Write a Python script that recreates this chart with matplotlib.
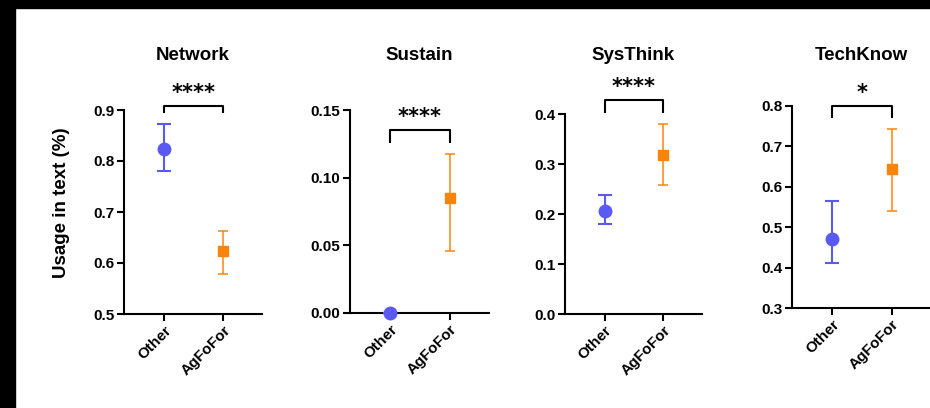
import matplotlib.pyplot as plt
from matplotlib.patches import Rectangle

plt.rcParams['font.family'] = ['Liberation Sans', 'DejaVu Sans']
plt.rcParams['font.weight'] = 'bold'

groups = ["Other", "AgFoFor"]
titles = ["Network", "Sustain", "SysThink", "TechKnow"]

# mean, lower, upper
other_mean = [0.824, 0.000, 0.207, 0.470]
other_low = [0.780, 0.000, 0.181, 0.411]
other_high = [0.873, 0.000, 0.239, 0.564]
agfo_mean = [0.623, 0.0852, 0.319, 0.644]
agfo_low = [0.578, 0.0455, 0.258, 0.541]
agfo_high = [0.663, 0.1173, 0.381, 0.743]

stars = ["****", "****", "****", "*"]
bracket_y = [0.908, 0.135, 0.428, 0.800]
bracket_leg = [0.897, 0.1266, 0.405, 0.774]

ylims = [(0.5, 0.9), (0.0, 0.15), (0.0, 0.4), (0.3, 0.8)]
yticks = [[0.5, 0.6, 0.7, 0.8, 0.9],
          [0.0, 0.05, 0.10, 0.15],
          [0.0, 0.1, 0.2, 0.3, 0.4],
          [0.3, 0.4, 0.5, 0.6, 0.7, 0.8]]
yfmt = ["%.1f", "%.2f", "%.1f", "%.1f"]

blue = "#5a5af2"
orange = "#f7850d"

W, H = 930, 408
# axes boxes in pixels: left, right, top, bottom
boxes = [(124, 262, 110, 314), (350, 489, 110, 313),
         (565, 702, 114, 314), (792, 931, 106, 308)]

fig = plt.figure(figsize=(9.3, 4.08), dpi=100)

for i in range(4):
    l, r, t, b = boxes[i]
    ax = fig.add_axes([l / W, 1 - b / H, (r - l) / W, (b - t) / H])
    ax.errorbar([0], [other_mean[i]],
                yerr=[[other_mean[i] - other_low[i]], [other_high[i] - other_mean[i]]],
                fmt='o', color=blue, ms=9, elinewidth=1.5, capsize=5, capthick=1.5,
                clip_on=False, zorder=5)
    ax.errorbar([1], [agfo_mean[i]],
                yerr=[[agfo_mean[i] - agfo_low[i]], [agfo_high[i] - agfo_mean[i]]],
                fmt='s', color=orange, ms=7.5, elinewidth=1.1, capsize=3.5, capthick=1.1,
                clip_on=False, zorder=5)

    ax.set_xlim(-0.678, 1.66)
    ax.set_ylim(*ylims[i])
    ax.set_yticks(yticks[i])
    ax.set_yticklabels([yfmt[i] % v for v in yticks[i]], fontsize=11, fontweight='bold')
    ax.set_xticks([0, 1])
    ax.set_xticklabels(groups, rotation=45, ha='right', rotation_mode='anchor',
                       fontsize=11, fontweight='bold')
    for s in ['top', 'right']:
        ax.spines[s].set_visible(False)
    for s in ['left', 'bottom']:
        ax.spines[s].set_linewidth(1.5)
    ax.tick_params(width=1.5, length=5, pad=2)

    # significance bracket
    ax.plot([0, 0, 1, 1], [bracket_leg[i], bracket_y[i], bracket_y[i], bracket_leg[i]],
            color='black', lw=1.5, clip_on=False)
    span = ylims[i][1] - ylims[i][0]
    ax.text(0.5, bracket_y[i] + span * 0.015, stars[i], ha='center', va='bottom',
            fontsize=15, fontweight='bold', family='DejaVu Sans', clip_on=False)

    fig.text((l + r) / 2 / W, 1 - 55 / H, titles[i], ha='center', va='center',
             fontsize=13.5, fontweight='bold')

fig.text(62 / W, 1 - 203 / H, "Usage in text (%)", rotation=90, ha='center', va='center',
         fontsize=13.5, fontweight='bold')

# dark frame visible at top and left of the reference
fig.patches.append(Rectangle((0, 1 - 8 / H), 1, 8 / H, transform=fig.transFigure,
                             color='black', zorder=10))
fig.patches.append(Rectangle((0, 0), 15 / W, 1, transform=fig.transFigure,
                             color='black', zorder=10))

fig.savefig("out.png", dpi=100)
